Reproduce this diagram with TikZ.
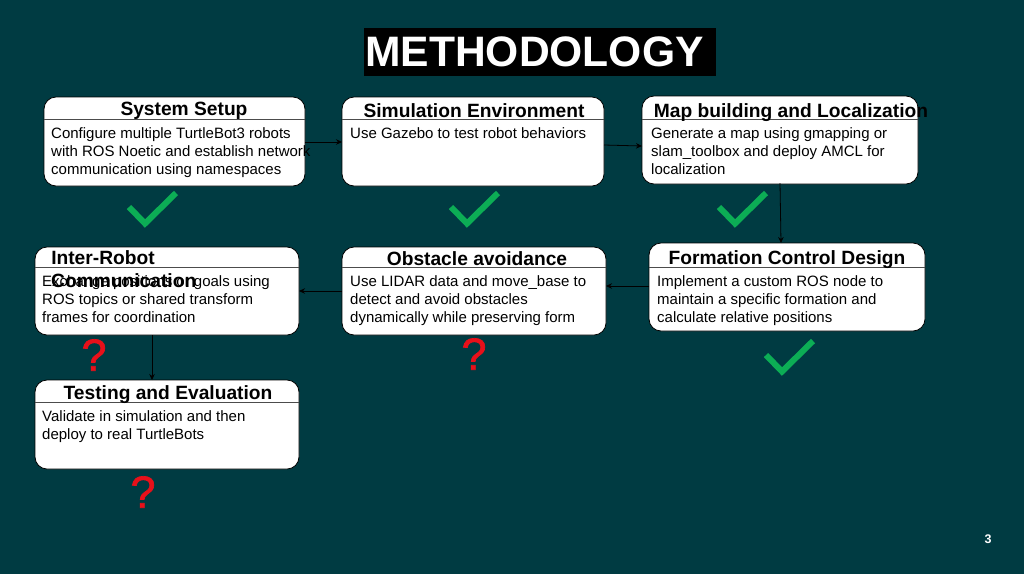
\documentclass[tikz,border=0pt]{standalone}
\usepackage{fontspec}
\setmainfont{Liberation Sans}
\newfontfamily\qfont[FakeBold=1.5]{Liberation Sans}
\usetikzlibrary{arrows.meta,calc}
\definecolor{bgc}{HTML}{003B42}
\definecolor{chk}{HTML}{0CAD55}
\definecolor{qm}{HTML}{E8101A}
\tikzset{x=1pt,y=-1pt,
 boxst/.style={draw=black,line width=0.8pt,fill=white,rounded corners=12pt},
 conn/.style={draw=black,line width=0.8pt,-{Stealth[length=6pt,width=5.5pt]}},
 ttl/.style={font=\bfseries\fontsize{19.2}{22}\selectfont,text=black,inner sep=0pt,anchor=base},
 bod/.style={font=\fontsize{15}{18.2}\selectfont,text=black,inner sep=0pt,anchor=north west,align=left},
 chkst/.style={draw=chk,line width=6pt,line cap=butt,line join=miter},
 qmst/.style={font=\qfont\fontsize{45}{45}\selectfont,text=qm,inner sep=0pt}}
\newcommand{\mybox}[8]{% name,x1,y1,x2,y2,sep y,title x,title
 \draw[boxst] (#2,#3) rectangle (#4,#5);
 \draw[black!70,line width=0.7pt] (#2,#6) -- (#4,#6);
 \node[ttl] (#1t) at #7 {#8};
}
\begin{document}
\begin{tikzpicture}
\useasboundingbox (0,0) rectangle (1024,574);
\fill[bgc] (0,0) rectangle (1024,574);
\fill[black] (364,28) rectangle (716,76);
\node[font=\bfseries\fontsize{42.6}{46}\selectfont,text=white,inner sep=0pt,anchor=west] (title) at (365,52) {METHODOLOGY};
\mybox{a}{44}{97}{305}{186}{119}{(184,115.5)}{System Setup}
\mybox{b}{342}{97}{604}{186}{119}{(474,117.5)}{Simulation Environment}
\mybox{c}{642}{96}{918}{184}{119}{(791,117.5)}{Map building and Localization}
\mybox{d}{649}{243}{925}{331}{267}{(787,264)}{Formation Control Design}
\mybox{e}{342}{247}{606}{335}{267}{(477,265)}{Obstacle avoidance}
\mybox{f}{35}{247}{299}{335}{267}{(103,264)}{Inter-Robot}
\mybox{g}{35}{380}{299}{469}{402}{(168,399.5)}{Testing and Evaluation}
\node[bod] (at) at (51,127) {Configure multiple TurtleBot3 robots\\with ROS Noetic and establish network\\communication using namespaces};
\node[bod] (bt) at (350,127) {Use Gazebo to test robot behaviors};
\node[bod] (ct) at (651,127) {Generate a map using gmapping or\\slam\_toolbox and deploy AMCL for\\localization};
\node[bod] (dt) at (657,275) {Implement a custom ROS node to\\maintain a specific formation and\\calculate relative positions};
\node[bod] (et) at (350,275) {Use LIDAR data and move\_base to\\detect and avoid obstacles\\dynamically while preserving form};
\node[bod] (ft) at (42,275) {Exchange positions or goals using\\ROS topics or shared transform\\frames for coordination};
\node[ttl,anchor=base west] (f2) at (51,287.5) {Communication};
\node[bod] (gt) at (42,410) {Validate in simulation and then\\deploy to real TurtleBots};
\coordinate (ab1) at (305,142); \coordinate (ab2) at (342,142);
\coordinate (bc1) at (604,145); \coordinate (bc2) at (642,146);
\coordinate (cd1) at (780,183); \coordinate (cd2) at (781,243);
\coordinate (de1) at (649,286); \coordinate (de2) at (606,286);
\coordinate (ef1) at (342,291); \coordinate (ef2) at (299,291);
\coordinate (fg1) at (152,335); \coordinate (fg2) at (152,380);
\draw[conn] (ab1) -- (ab2);
\draw[conn] (bc1) -- (bc2);
\draw[conn] (cd1) -- (cd2);
\draw[conn] (de1) -- (de2);
\draw[conn] (ef1) -- (ef2);
\draw[conn] (fg1) -- (fg2);
\foreach \x/\y in {129/207,451/207,719/207,766/355}{
 \draw[chkst] (\x,\y) -- ++(16,16.5) -- ++(31,-30.5);
}
\node[qmst] (q1) at (94,355) {?};
\node[qmst] (q2) at (474,354) {?};
\node[qmst] (q3) at (143,492) {?};
\node[font=\bfseries\fontsize{12.5}{14}\selectfont,text=white,inner sep=0pt] (pg) at (988,539) {3};
\end{tikzpicture}
\end{document}
